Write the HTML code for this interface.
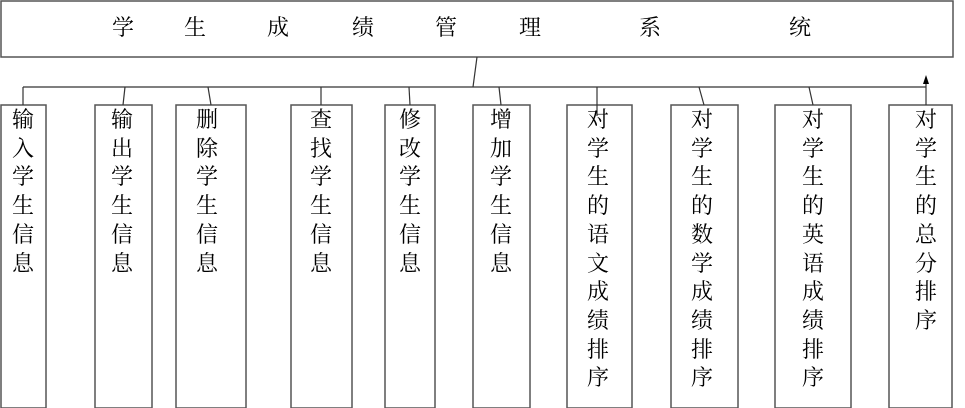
<!DOCTYPE html>
<html><head><meta charset="utf-8"><style>
html,body{margin:0;padding:0;background:#fff;width:965px;height:408px;overflow:hidden;position:relative;font-family:"Liberation Serif","Noto Serif CJK SC",serif;}
svg{position:absolute;left:0;top:0}
.t{position:absolute;font-size:22px;line-height:28.7px;width:22px;color:#000;text-align:center;top:106px;}
.h{position:absolute;font-size:22px;line-height:24px;top:16px;color:#000}
</style></head><body>
<svg width="965" height="408" viewBox="0 0 965 408">
<g fill="none" stroke="#555" stroke-width="1.5">
<rect x="1" y="1" width="952" height="56"/>
<rect x="1" y="105" width="45" height="303"/>
<rect x="95" y="105" width="57" height="303"/>
<rect x="176" y="105" width="70" height="303"/>
<rect x="291" y="105" width="61" height="303"/>
<rect x="385" y="105" width="50" height="303"/>
<rect x="473" y="105" width="57" height="303"/>
<rect x="567" y="105" width="65" height="303"/>
<rect x="671" y="105" width="67" height="303"/>
<rect x="775" y="105" width="76" height="303"/>
<rect x="889" y="105" width="63" height="303"/>
</g>
<g fill="none" stroke="#333" stroke-width="1.2">
<line x1="477" y1="57" x2="473" y2="87"/>
<line x1="23" y1="87" x2="926" y2="87"/>
<line x1="23" y1="87" x2="23" y2="105"/>
<line x1="125" y1="87" x2="123" y2="105"/>
<line x1="208" y1="87" x2="211" y2="105"/>
<line x1="321" y1="87" x2="321" y2="105"/>
<line x1="409" y1="87" x2="410" y2="105"/>
<line x1="499" y1="87" x2="501" y2="105"/>
<line x1="597" y1="87" x2="597" y2="116"/>
<line x1="699" y1="87" x2="704" y2="105"/>
<line x1="809" y1="87" x2="813" y2="105"/>
<line x1="926" y1="105" x2="926" y2="82"/>
</g>
<polygon points="926,75 923,84 929,84" fill="#000"/>
</svg>
<div class="h" style="left:112px">学</div>
<div class="h" style="left:184px">生</div>
<div class="h" style="left:267px">成</div>
<div class="h" style="left:352px">绩</div>
<div class="h" style="left:435px">管</div>
<div class="h" style="left:519px">理</div>
<div class="h" style="left:639px">系</div>
<div class="h" style="left:789px">统</div>

<div class="t" style="left:12px">输<br>入<br>学<br>生<br>信<br>息</div>
<div class="t" style="left:111px">输<br>出<br>学<br>生<br>信<br>息</div>
<div class="t" style="left:196px">删<br>除<br>学<br>生<br>信<br>息</div>
<div class="t" style="left:310px">查<br>找<br>学<br>生<br>信<br>息</div>
<div class="t" style="left:399px">修<br>改<br>学<br>生<br>信<br>息</div>
<div class="t" style="left:490px">增<br>加<br>学<br>生<br>信<br>息</div>
<div class="t" style="left:587px">对<br>学<br>生<br>的<br>语<br>文<br>成<br>绩<br>排<br>序</div>
<div class="t" style="left:691px">对<br>学<br>生<br>的<br>数<br>学<br>成<br>绩<br>排<br>序</div>
<div class="t" style="left:802px">对<br>学<br>生<br>的<br>英<br>语<br>成<br>绩<br>排<br>序</div>
<div class="t" style="left:915px">对<br>学<br>生<br>的<br>总<br>分<br>排<br>序</div>
</body></html>
